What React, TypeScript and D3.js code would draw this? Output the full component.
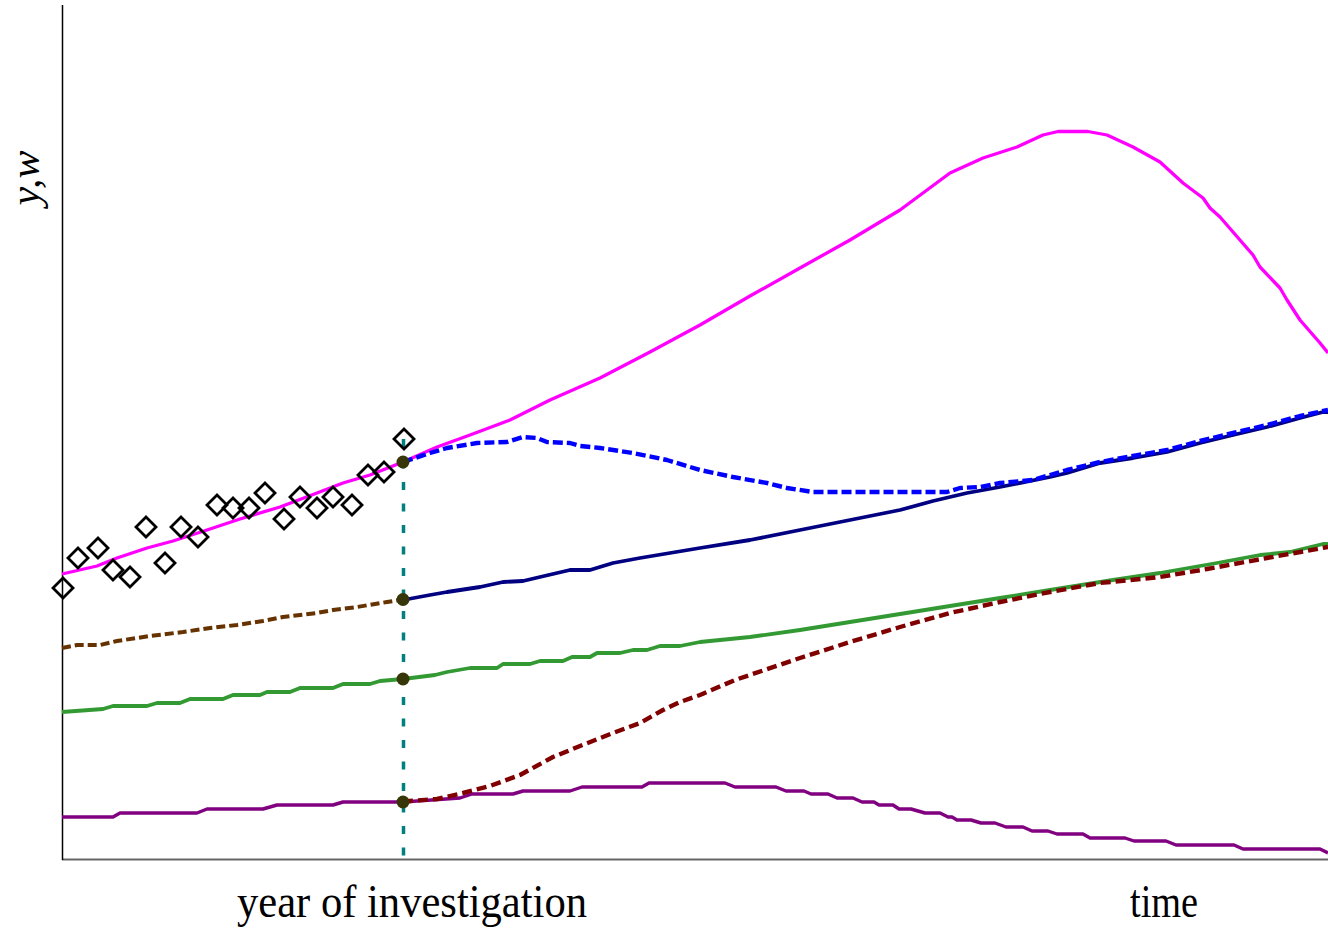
import React from "react";
import * as d3 from "d3";

// Arbitrary model units: time t on x, level on y.
const T_INVESTIGATION = 34.1;

// Observed values up to the year of investigation.
const obsT = [0.1, 1.6, 3.6, 5.1, 6.8, 8.4, 10.3, 11.9, 13.6, 15.5, 17.1, 18.7, 20.3, 22.2, 23.8, 25.5, 27.1, 29.0, 30.6, 32.2, 34.2];
const obsY = [27.1, 30.1, 31.1, 28.9, 28.2, 33.2, 29.6, 33.2, 32.2, 35.4, 35.1, 35.1, 36.6, 34.0, 36.2, 35.1, 36.2, 35.4, 38.4, 38.7, 42.0];

// y: total trajectory
const yTotalT = [0, 3.5, 5.5, 8.5, 11.1, 14.5, 17.8, 21.8, 25.5, 28.1, 30.8, 34.1, 37.5, 40.8, 44.8, 48.8, 53.8, 58.8, 63.8, 68.8, 73.8, 78.8, 83.8, 88.8, 92.1, 95.5, 98.1, 99.6, 102.6, 104.5, 107.1, 109.8, 112.1, 114.1, 114.8, 115.8, 119.1, 119.8, 121.8, 122.5, 123.8, 125.8, 126.6];
const yTotalV = [28.5, 29.3, 30.1, 31.1, 31.8, 32.9, 34.0, 35.2, 36.6, 37.6, 38.4, 39.7, 41.2, 42.4, 43.9, 45.9, 48.1, 50.7, 53.4, 56.3, 59.1, 61.9, 64.9, 68.6, 70.1, 71.2, 72.4, 72.75, 72.75, 72.4, 71.2, 69.7, 67.6, 66.1, 65.1, 64.2, 60.4, 59.2, 57.1, 55.9, 53.9, 51.6, 50.6];

// w: forecast path after investigation
const wForecastT = [34.1, 36.8, 38.5, 41.5, 44.5, 46.1, 47.5, 48.5, 50.8, 51.8, 53.8, 57.1, 60.5, 63.8, 67.1, 70.5, 72.5, 75.1, 88.5, 89.8, 91.8, 93.8, 97.1, 98.8, 100.5, 103.8, 107.1, 110.5, 113.8, 117.1, 120.5, 123.8, 126.6];
const wForecastV = [39.7, 40.6, 41.1, 41.6, 41.7, 42.2, 42.1, 41.7, 41.6, 41.3, 41.1, 40.6, 39.9, 38.9, 38.2, 37.6, 37.1, 36.7, 36.7, 37.1, 37.2, 37.6, 37.9, 38.4, 38.9, 39.7, 40.3, 40.9, 41.8, 42.6, 43.4, 44.3, 44.9];

// Upper trend component before investigation
const trendBeforeT = [0, 1.5, 3.8, 5.5, 8.8, 12.1, 14.8, 17.5, 20.1, 22.1, 25.5, 27.1, 29.5, 32.5, 34.1];
const trendBeforeV = [21.1, 21.4, 21.4, 21.8, 22.3, 22.7, 23.1, 23.4, 23.8, 24.2, 24.6, 24.9, 25.2, 25.7, 25.95];

// Upper trend component after investigation
const trendAfterT = [34.1, 36.8, 38.5, 41.8, 44.1, 46.1, 47.8, 50.8, 52.8, 55.1, 57.8, 63.8, 68.8, 73.8, 78.8, 83.8, 87.1, 90.5, 93.8, 98.8, 100.5, 103.8, 107.1, 110.5, 113.8, 117.1, 120.5, 123.8, 126.1, 126.6];
const trendAfterV = [25.9, 26.4, 26.7, 27.2, 27.7, 27.8, 28.2, 28.9, 28.9, 29.6, 30.1, 31.1, 31.9, 32.9, 33.9, 34.9, 35.8, 36.6, 37.2, 38.2, 38.6, 39.6, 40.1, 40.7, 41.6, 42.4, 43.2, 44.1, 44.7, 44.7];

// Middle component
const middleT = [0, 4.1, 5.1, 8.5, 9.5, 11.8, 12.8, 16.1, 17.1, 19.8, 20.5, 22.8, 23.8, 27.1, 28.1, 30.8, 31.8, 34.1, 37.3, 38.5, 40.8, 43.5, 44.1, 46.8, 47.8, 50.1, 51.0, 52.8, 53.5, 55.8, 57.1, 58.5, 59.8, 61.8, 63.8, 68.8, 73.8, 78.8, 83.8, 88.8, 93.8, 98.8, 105.1, 109.8, 115.5, 119.8, 122.8, 126.1, 126.6];
const middleV = [14.7, 15.0, 15.3, 15.3, 15.6, 15.6, 16.0, 16.0, 16.4, 16.4, 16.7, 16.7, 17.1, 17.1, 17.5, 17.5, 17.8, 18.0, 18.4, 18.7, 19.1, 19.1, 19.5, 19.5, 19.8, 19.8, 20.2, 20.2, 20.6, 20.6, 20.9, 20.9, 21.3, 21.3, 21.7, 22.2, 22.9, 23.7, 24.5, 25.3, 26.1, 26.9, 27.9, 28.6, 29.6, 30.4, 30.7, 31.5, 31.5];

// Rising component after investigation
const risingT = [34.1, 37.5, 40.1, 42.8, 45.8, 49.1, 51.8, 55.1, 57.8, 60.1, 61.8, 63.8, 67.3, 73.8, 78.8, 83.8, 88.8, 93.8, 98.8, 103.8, 109.8, 114.5, 120.5, 126.6];
const risingV = [5.75, 6.0, 6.6, 7.3, 8.4, 10.2, 11.3, 12.6, 13.6, 14.9, 15.7, 16.4, 17.9, 20.1, 21.7, 23.2, 24.6, 25.7, 26.7, 27.6, 28.2, 29.0, 30.1, 31.2];

// Lower component
const lowerT = [0, 5.1, 5.8, 13.5, 14.5, 20.1, 21.5, 27.1, 28.1, 34.1, 39.8, 41.0, 45.1, 46.1, 50.8, 52.0, 58.0, 58.7, 66.3, 67.3, 71.4, 72.4, 74.2, 74.9, 76.6, 77.5, 79.1, 80.0, 81.2, 81.7, 83.1, 83.7, 84.9, 86.3, 87.8, 88.6, 89.0, 89.5, 90.9, 91.9, 93.3, 94.4, 96.1, 97.0, 98.6, 99.5, 102.1, 102.8, 106.3, 107.2, 110.4, 111.4, 117.2, 118.1, 125.8, 126.6];
const lowerV = [4.2, 4.2, 4.6, 4.6, 5.0, 5.0, 5.4, 5.4, 5.7, 5.7, 6.1, 6.5, 6.5, 6.8, 6.8, 7.2, 7.2, 7.6, 7.6, 7.2, 7.2, 6.8, 6.8, 6.5, 6.5, 6.1, 6.1, 5.7, 5.7, 5.4, 5.4, 5.0, 5.0, 4.6, 4.6, 4.2, 4.2, 3.9, 3.9, 3.6, 3.6, 3.2, 3.2, 2.8, 2.8, 2.5, 2.5, 2.1, 2.1, 1.8, 1.8, 1.4, 1.4, 1.0, 1.0, 0.6];

// Values of the components at the year of investigation
const anchorV = [39.7, 25.95, 18.0, 5.7];

const X_LABELS = ["year of investigation", "time"];
const Y_LABEL = "y,w";

type Pt = [number, number];
const zip = (t: number[], v: number[]): Pt[] => t.map((d, i) => [d, v[i]]);

const W = 1328;
const H = 928;
const M = { left: 62, right: 0, top: 5, bottom: 69 };

export default function App() {
  const x = d3.scaleLinear().domain([0, 126.6]).range([M.left, W - M.right]);
  const y = d3.scaleLinear().domain([0, 85.4]).range([H - M.bottom, M.top]);
  const line = d3
    .line<Pt>()
    .x((d) => x(d[0]))
    .y((d) => y(d[1]));

  const series = [
    { pts: zip(middleT, middleV), color: "#339933", width: 3.8, dash: undefined },
    { pts: zip(lowerT, lowerV), color: "#800080", width: 3.4, dash: undefined },
    { pts: zip(risingT, risingV), color: "#800000", width: 4.4, dash: "10 5" },
    { pts: zip(trendBeforeT, trendBeforeV), color: "#663300", width: 4, dash: "9 4" },
    { pts: zip(trendAfterT, trendAfterV), color: "#000080", width: 3.8, dash: undefined },
    { pts: zip(yTotalT, yTotalV), color: "#ff00ff", width: 3.3, dash: undefined },
    { pts: zip(wForecastT, wForecastV), color: "#0000ff", width: 4.4, dash: "10 4" },
  ];

  const obs = zip(obsT, obsY);
  const r = 10;
  const diamond = (cx: number, cy: number) =>
    `M${cx},${cy - r}L${cx + r},${cy}L${cx},${cy + r}L${cx - r},${cy}Z`;

  const y0 = y(0);
  const serif = "'Liberation Serif', 'Times New Roman', 'DejaVu Serif', serif";

  return (
    <svg
      width={W}
      height={H}
      style={{ position: "absolute", left: 0, top: 0, background: "#fff" }}
    >
      {/* axes */}
      <line x1={x(0)} x2={W} y1={y0 + 0.5} y2={y0 + 0.5} stroke="#666" strokeWidth={2} />
      <line x1={x(0) + 0.5} x2={x(0) + 0.5} y1={M.top} y2={y0 + 1} stroke="#000" strokeWidth={1.5} />

      {series.map((s, i) => (
        <path
          key={i}
          d={line(s.pts) || ""}
          fill="none"
          stroke={s.color}
          strokeWidth={s.width}
          strokeDasharray={s.dash}
          strokeLinejoin="round"
        />
      ))}

      {/* year of investigation marker */}
      <line
        x1={x(T_INVESTIGATION) + 0.5}
        x2={x(T_INVESTIGATION) + 0.5}
        y1={y(42.0)}
        y2={y0}
        stroke="#008080"
        strokeWidth={3.5}
        strokeDasharray="8 13.5"
      />
      {anchorV.map((v, i) => (
        <circle key={i} cx={x(T_INVESTIGATION)} cy={y(v)} r={6.5} fill="#363608" />
      ))}

      {obs.map((d, i) => (
        <path key={i} d={diamond(x(d[0]), y(d[1]))} fill="none" stroke="#000" strokeWidth={2.8} />
      ))}

      <text
        x={412}
        y={917}
        textAnchor="middle"
        fontFamily={serif}
        fontSize={46}
        textLength={350}
        lengthAdjust="spacingAndGlyphs"
        fill="#000"
      >
        {X_LABELS[0]}
      </text>
      <text
        x={1164}
        y={917}
        textAnchor="middle"
        fontFamily={serif}
        fontSize={46}
        textLength={68}
        lengthAdjust="spacingAndGlyphs"
        fill="#000"
      >
        {X_LABELS[1]}
      </text>
      <text
        transform="translate(39,178) rotate(-90)"
        textAnchor="middle"
        fontFamily={serif}
        fontStyle="italic"
        fontSize={42}
        fill="#000"
      >
        {Y_LABEL}
      </text>
    </svg>
  );
}
